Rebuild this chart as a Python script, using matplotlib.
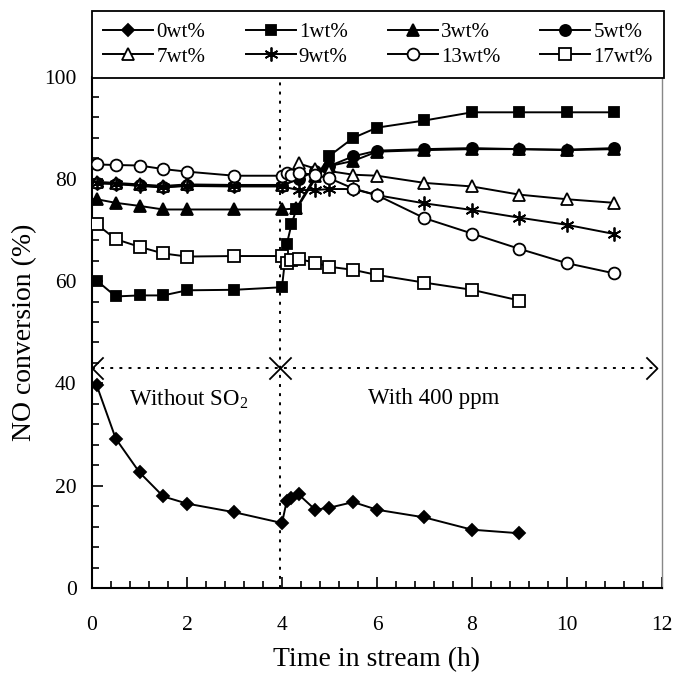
import numpy as np
import matplotlib
matplotlib.use('Agg')
import matplotlib.pyplot as plt
from matplotlib.path import Path
from matplotlib.ticker import MultipleLocator

plt.rcParams['font.family'] = ['Liberation Serif', 'DejaVu Serif']
plt.rcParams['mathtext.fontset'] = 'custom'
plt.rcParams['mathtext.rm'] = 'Liberation Serif'

# time in stream (h) and NO conversion (%) per Na loading
t0 = [0.1, 0.5, 1, 1.5, 2, 3, 4, 4.1, 4.2, 4.35, 4.7, 5, 5.5, 6, 7, 8, 9]
y0 = [39.6, 29.2, 22.6, 17.9, 16.5, 14.8, 12.7, 17.0, 17.6, 18.3, 15.3, 15.7, 16.8, 15.3, 13.8, 11.4, 10.7]

t1 = [0.1, 0.5, 1, 1.5, 2, 3, 4, 4.1, 4.2, 4.3, 5, 5.5, 6, 7, 8, 9, 10, 11]
y1 = [60.1, 57.0, 57.2, 57.2, 58.2, 58.3, 58.8, 67.2, 71.1, 74.0, 84.5, 88.0, 90.0, 91.4, 93.0, 93.0, 93.0, 93.0]

t3 = [0.1, 0.5, 1, 1.5, 2, 3, 4, 4.3, 4.7, 5, 5.5, 6, 7, 8, 9, 10, 11]
y3 = [76.0, 75.3, 74.7, 74.0, 74.0, 74.0, 74.0, 74.2, 80.5, 82.5, 83.5, 85.3, 85.6, 85.8, 85.8, 85.6, 85.8]

t5 = [0.1, 0.5, 1, 1.5, 2, 3, 4, 4.35, 4.7, 5, 5.5, 6, 7, 8, 9, 10, 11]
y5 = [79.2, 79.0, 78.7, 78.4, 78.7, 78.6, 78.6, 80.0, 81.5, 82.5, 84.4, 85.5, 85.8, 86.0, 85.8, 85.7, 86.0]

t7 = [0.1, 0.5, 1, 1.5, 2, 3, 4, 4.35, 4.7, 5, 5.5, 6, 7, 8, 9, 10, 11]
y7 = [79.4, 79.2, 78.9, 78.6, 78.9, 78.8, 78.8, 83.0, 82.0, 81.5, 80.8, 80.6, 79.2, 78.5, 76.9, 76.0, 75.3]

t9 = [0.1, 0.5, 1, 1.5, 2, 3, 4, 4.35, 4.7, 5, 5.5, 6, 7, 8, 9, 10, 11]
y9 = [79.1, 79.0, 78.6, 78.3, 78.6, 78.5, 78.5, 77.8, 77.8, 78.0, 78.0, 76.8, 75.2, 73.9, 72.4, 71.0, 69.2]

t13 = [0.1, 0.5, 1, 1.5, 2, 3, 4, 4.1, 4.2, 4.35, 4.7, 5, 5.5, 6, 7, 8, 9, 10, 11]
y13 = [82.8, 82.7, 82.6, 81.9, 81.4, 80.6, 80.6, 81.1, 80.7, 81.2, 80.7, 80.1, 78.1, 76.8, 72.3, 69.3, 66.3, 63.5, 61.5]

t17 = [0.1, 0.5, 1, 1.5, 2, 3, 4, 4.1, 4.2, 4.35, 4.7, 5, 5.5, 6, 7, 8, 9]
y17 = [71.1, 68.2, 66.7, 65.4, 64.8, 64.9, 64.9, 63.5, 64.2, 64.3, 63.6, 62.8, 62.2, 61.2, 59.7, 58.3, 56.2]

series = [
    ('0wt%', t0, y0, 'D', 'k', 6.5),
    ('1wt%', t1, y1, 's', 'k', 7.5),
    ('3wt%', t3, y3, '^', 'k', 8),
    ('5wt%', t5, y5, 'o', 'k', 8),
    ('7wt%', t7, y7, '^', 'w', 8),
    ('9wt%', t9, y9, (6, 2, 0), 'k', 10),
    ('13wt%', t13, y13, 'o', 'w', 8.5),
    ('17wt%', t17, y17, 's', 'w', 8),
]

fig = plt.figure(figsize=(6.75, 6.8), dpi=100)
ax = fig.add_axes([0.1363, 0.1353, 0.8444, 0.7522])

handles = []
for name, t, y, m, fc, ms in series:
    h, = ax.plot(t, y, color='k', lw=1.4, marker=m, markersize=ms,
                 markerfacecolor=fc, markeredgecolor='k', markeredgewidth=1.3,
                 label=name, zorder=3)
    handles.append(h)

# SO2 switch line and arrows
dots = (0, (1.5, 3.2))
ax.plot([3.95, 3.95], [0, 100], color='k', lw=1.4, ls=dots, zorder=2)
ax.plot([0, 11.9], [43, 43], color='k', lw=1.4, ls=dots, zorder=2)
left = Path([(1, 1), (0, 0), (1, -1)], [Path.MOVETO, Path.LINETO, Path.LINETO])
right = Path([(-1, 1), (0, 0), (-1, -1)], [Path.MOVETO, Path.LINETO, Path.LINETO])
ax.plot([0, 3.95], [43, 43], ls='none', marker=left, markersize=16,
        markerfacecolor='none', markeredgecolor='k', markeredgewidth=1.3, clip_on=False)
ax.plot([3.95, 11.9], [43, 43], ls='none', marker=right, markersize=16,
        markerfacecolor='none', markeredgecolor='k', markeredgewidth=1.3, clip_on=False)

ax.text(0.78, 37, r'Without SO$_\mathrm{2}$', fontsize=16.5, va='center')
ax.text(5.82, 37, 'With 400 ppm', fontsize=16.5, va='center')

ax.set_xlim(0, 12)
ax.set_ylim(0, 100)
ax.set_xticks([0, 2, 4, 6, 8, 10, 12])
ax.set_yticks([0, 20, 40, 60, 80, 100])
ax.xaxis.set_minor_locator(MultipleLocator(0.4))
ax.yaxis.set_minor_locator(MultipleLocator(4))
ax.tick_params(which='both', direction='in', top=False, right=False, width=1.2, labelsize=15.5)
ax.tick_params(which='major', length=8)
ax.tick_params(which='minor', length=5)
ax.tick_params(axis='x', which='major', pad=20)
ax.tick_params(axis='y', which='major', pad=11)
ax.set_xlabel('Time in stream (h)', fontsize=20, labelpad=9)
ax.set_ylabel('NO conversion (%)', fontsize=20, labelpad=5)
for s in ['left', 'bottom']:
    ax.spines[s].set_linewidth(1.5)
ax.spines['top'].set_visible(False)
ax.spines['right'].set_color('#888888')
ax.spines['right'].set_linewidth(1.0)

# legend rows read 0,1,3,5 / 7,9,13,17
order = [0, 4, 1, 5, 2, 6, 3, 7]
leg = fig.legend(handles=[handles[i] for i in order], loc='lower left', ncol=4, mode='expand',
                 bbox_to_anchor=(0.1363, 0.8853, 0.848, 0.1), borderaxespad=0,
                 fontsize=15, handlelength=2.4, handletextpad=0.15, columnspacing=0.3,
                 labelspacing=0.22, borderpad=0.55, fancybox=False, edgecolor='k', framealpha=1)
leg.get_frame().set_linewidth(1.3)

fig.savefig('out.png', dpi=100)
